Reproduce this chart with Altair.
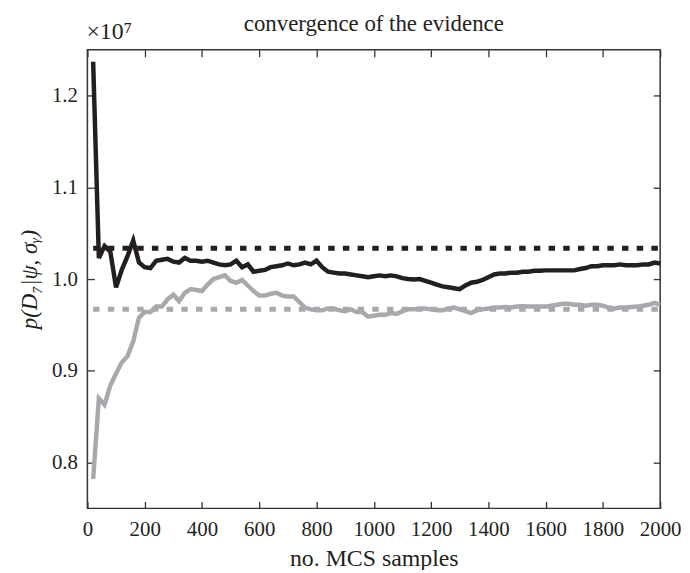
import altair as alt
import pandas as pd

# --- data (values in units of 1e7) ---
samples = list(range(20, 2001, 20))
black_vals = [
    1.237, 1.023, 1.036, 1.030, 0.991, 1.010, 1.025, 1.042, 1.018, 1.013,
    1.012, 1.020, 1.021, 1.022, 1.019, 1.018, 1.023, 1.020, 1.020, 1.019,
    1.020, 1.018, 1.016, 1.015, 1.016, 1.020, 1.013, 1.016, 1.008, 1.009,
    1.010, 1.013, 1.014, 1.015, 1.017, 1.015, 1.016, 1.018, 1.016, 1.020,
    1.013, 1.008, 1.007, 1.006, 1.006, 1.005, 1.004, 1.003, 1.002, 1.003,
    1.004, 1.003, 1.004, 1.003, 1.001, 1.000, 0.9995, 1.000, 0.998, 0.996,
    0.994, 0.992, 0.991, 0.990, 0.989, 0.993, 0.996, 0.997, 0.999, 1.002,
    1.005, 1.006, 1.006, 1.007, 1.007, 1.008, 1.008, 1.009, 1.009, 1.0095,
    1.0095, 1.0095, 1.0095, 1.0095, 1.0095, 1.011, 1.012, 1.014, 1.014, 1.015,
    1.015, 1.015, 1.016, 1.015, 1.015, 1.015, 1.016, 1.016, 1.018, 1.017,
]
gray_vals = [
    0.782, 0.870, 0.863, 0.884, 0.897, 0.909, 0.916, 0.932, 0.958, 0.964,
    0.964, 0.970, 0.970, 0.978, 0.983, 0.976, 0.985, 0.989, 0.988, 0.987,
    0.994, 1.000, 1.002, 1.004, 0.998, 0.996, 0.999, 0.993, 0.987, 0.982,
    0.982, 0.984, 0.985, 0.982, 0.981, 0.981, 0.975, 0.969, 0.967, 0.966,
    0.966, 0.968, 0.968, 0.966, 0.965, 0.967, 0.964, 0.964, 0.959, 0.960,
    0.961, 0.961, 0.963, 0.962, 0.965, 0.967, 0.967, 0.968, 0.968, 0.967,
    0.966, 0.966, 0.968, 0.969, 0.967, 0.965, 0.963, 0.966, 0.967, 0.968,
    0.969, 0.969, 0.9695, 0.969, 0.970, 0.9705, 0.970, 0.970, 0.970, 0.970,
    0.971, 0.972, 0.973, 0.973, 0.972, 0.972, 0.971, 0.972, 0.972, 0.971,
    0.969, 0.968, 0.969, 0.969, 0.9695, 0.970, 0.971, 0.972, 0.974, 0.972,
]
dash_x = [20, 2000]
dash_black = [1.0335, 1.0335]
dash_gray = [0.967, 0.967]
x_ticks = list(range(0, 2001, 200))
y_ticks = [0.8, 0.9, 1.0, 1.1, 1.2]
title_text = "convergence of the evidence"
exp_text = "×10⁷"

BLACK = "#231f20"
GRAY = "#a7a9ac"
FONT = "Liberation Serif"
W, H = 577, 462

df_black = pd.DataFrame({"n": samples, "v": black_vals})
df_gray = pd.DataFrame({"n": samples, "v": gray_vals})
df_db = pd.DataFrame({"n": dash_x, "v": dash_black})
df_dg = pd.DataFrame({"n": dash_x, "v": dash_gray})

xscale = alt.Scale(domain=[0, 2000], nice=False, zero=False)
yscale = alt.Scale(domain=[0.75, 1.25], nice=False, zero=False)

common_axis = dict(grid=False, domain=False, tickSize=7, offset=-7,
                   tickColor="#333333", tickWidth=1.3,
                   labelFont=FONT, labelFontSize=21, labelColor=BLACK,
                   titleFont=FONT, titleColor=BLACK, titleFontWeight="normal")

x_bottom = alt.X("n:Q", scale=xscale,
                 axis=alt.Axis(orient="bottom", values=x_ticks, format="d",
                               labelPadding=10, title="no. MCS samples",
                               titleFontSize=24, titlePadding=8,
                               labelFlush=False, **common_axis))
y_left = alt.Y("v:Q", scale=yscale,
               axis=alt.Axis(orient="left", values=y_ticks, format=".1f",
                             labelPadding=10, title="p(D₇|ψ, σᵧ)",
                             titleFontSize=23, titleFontStyle="italic",
                             titlePadding=10, **common_axis))
x_top = alt.X("n:Q", scale=xscale,
              axis=alt.Axis(orient="top", values=x_ticks, labels=False, title=None,
                            **common_axis))
y_right = alt.Y("v:Q", scale=yscale,
                axis=alt.Axis(orient="right", values=y_ticks, labels=False, title=None,
                              **common_axis))
x_none = alt.X("n:Q", scale=xscale, axis=None)
y_none = alt.Y("v:Q", scale=yscale, axis=None)

black_line = alt.Chart(df_black).mark_line(
    color=BLACK, strokeWidth=4.5, strokeJoin="miter"
).encode(x=x_bottom, y=y_left)

gray_line = alt.Chart(df_gray).mark_line(
    color=GRAY, strokeWidth=4.5, strokeJoin="miter"
).encode(x=x_top, y=y_right)

dash_b = alt.Chart(df_db).mark_line(
    color=BLACK, strokeWidth=5, strokeDash=[6.5, 8.3], strokeCap="butt"
).encode(x=x_none, y=y_none)

dash_g = alt.Chart(df_dg).mark_line(
    color=GRAY, strokeWidth=5, strokeDash=[6.5, 8.3], strokeCap="butt"
).encode(x=x_none, y=y_none)

exp_label = alt.Chart(pd.DataFrame({"t": [exp_text]})).mark_text(
    font=FONT, fontSize=24, size=24, color=BLACK, align="left",
    baseline="alphabetic"
).encode(x=alt.value(-1), y=alt.value(-11), text="t:N")

title_label = alt.Chart(pd.DataFrame({"t": [title_text]})).mark_text(
    font=FONT, fontSize=23, size=23, color=BLACK, align="center",
    baseline="alphabetic"
).encode(x=alt.value(W / 2), y=alt.value(-19), text="t:N")

chart = alt.layer(dash_g, dash_b, gray_line, black_line, exp_label,
                  title_label).resolve_axis(
    x="independent", y="independent"
).properties(
    width=W, height=H,
    autosize=alt.AutoSizeParams(type="none"),
    padding={"left": 80, "top": 40, "right": 22, "bottom": 60},
).configure_view(stroke="#333333", strokeWidth=1.5)

chart.save("out.html", embed_options={"renderer": "svg", "actions": False})
